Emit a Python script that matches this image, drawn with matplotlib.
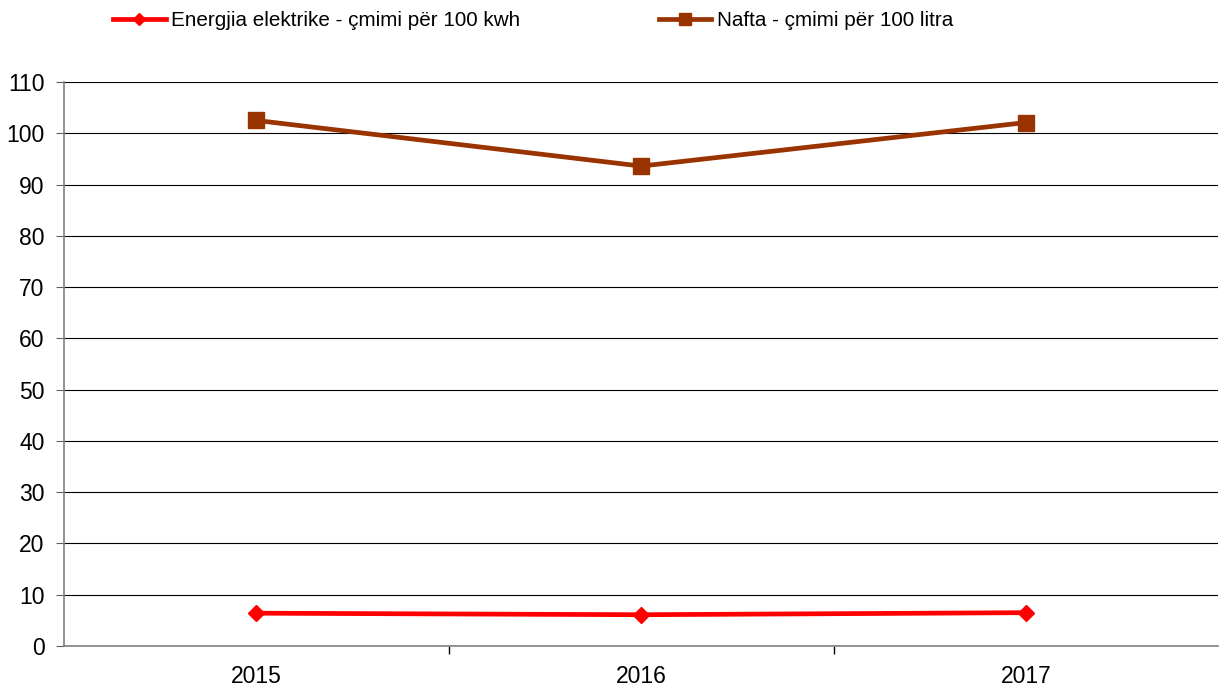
import matplotlib
matplotlib.use("Agg")
import matplotlib.pyplot as plt

years = ["2015", "2016", "2017"]
energjia = [6.4, 6.1, 6.5]
nafta = [102.5, 93.6, 102.1]
yticks = list(range(0, 111, 10))

plt.rcParams['font.family'] = ['Liberation Sans', 'DejaVu Sans']

fig = plt.figure(figsize=(12.19, 6.86), dpi=100)
ax = fig.add_axes([64/1219, 1-646/686, 1-64/1219 - 0.0005, (646-82)/686])

x = list(range(len(years)))
ax.plot(x, energjia, color='#FF0000', lw=3.4, marker='D', markersize=8,
        label='Energjia elektrike - çmimi për 100 kwh', zorder=3)
ax.plot(x, nafta, color='#993300', lw=3.4, marker='s', markersize=11,
        label='Nafta - çmimi për 100 litra', zorder=3)

ax.set_xlim(-0.5, 2.5)
ax.set_ylim(0, 110)
ax.set_yticks(yticks)
ax.set_xticks(x)
ax.set_xticklabels(years)
ax.set_xticks([0.5, 1.5], minor=True)
ax.tick_params(axis='x', which='major', length=0, labelsize=16.5, pad=14)
ax.tick_params(axis='x', which='minor', length=6, color='#000000', width=1)
ax.tick_params(axis='y', length=6, color='#606060', labelsize=16.5, pad=8)
ax.yaxis.grid(True, color='#000000', lw=0.8)
ax.set_axisbelow(True)
for s in ['top', 'right']:
    ax.spines[s].set_visible(False)
for s in ['left', 'bottom']:
    ax.spines[s].set_color('#808080')
    ax.spines[s].set_linewidth(1.2)

fig.legend(loc='center left', bbox_to_anchor=(113/1219, 1-21/686), ncol=2,
           frameon=False, fontsize=14.9, handlelength=2.55, handletextpad=0.25,
           columnspacing=6.7, borderaxespad=0, borderpad=0, markerscale=0.75)

fig.savefig("out.png", dpi=100)
